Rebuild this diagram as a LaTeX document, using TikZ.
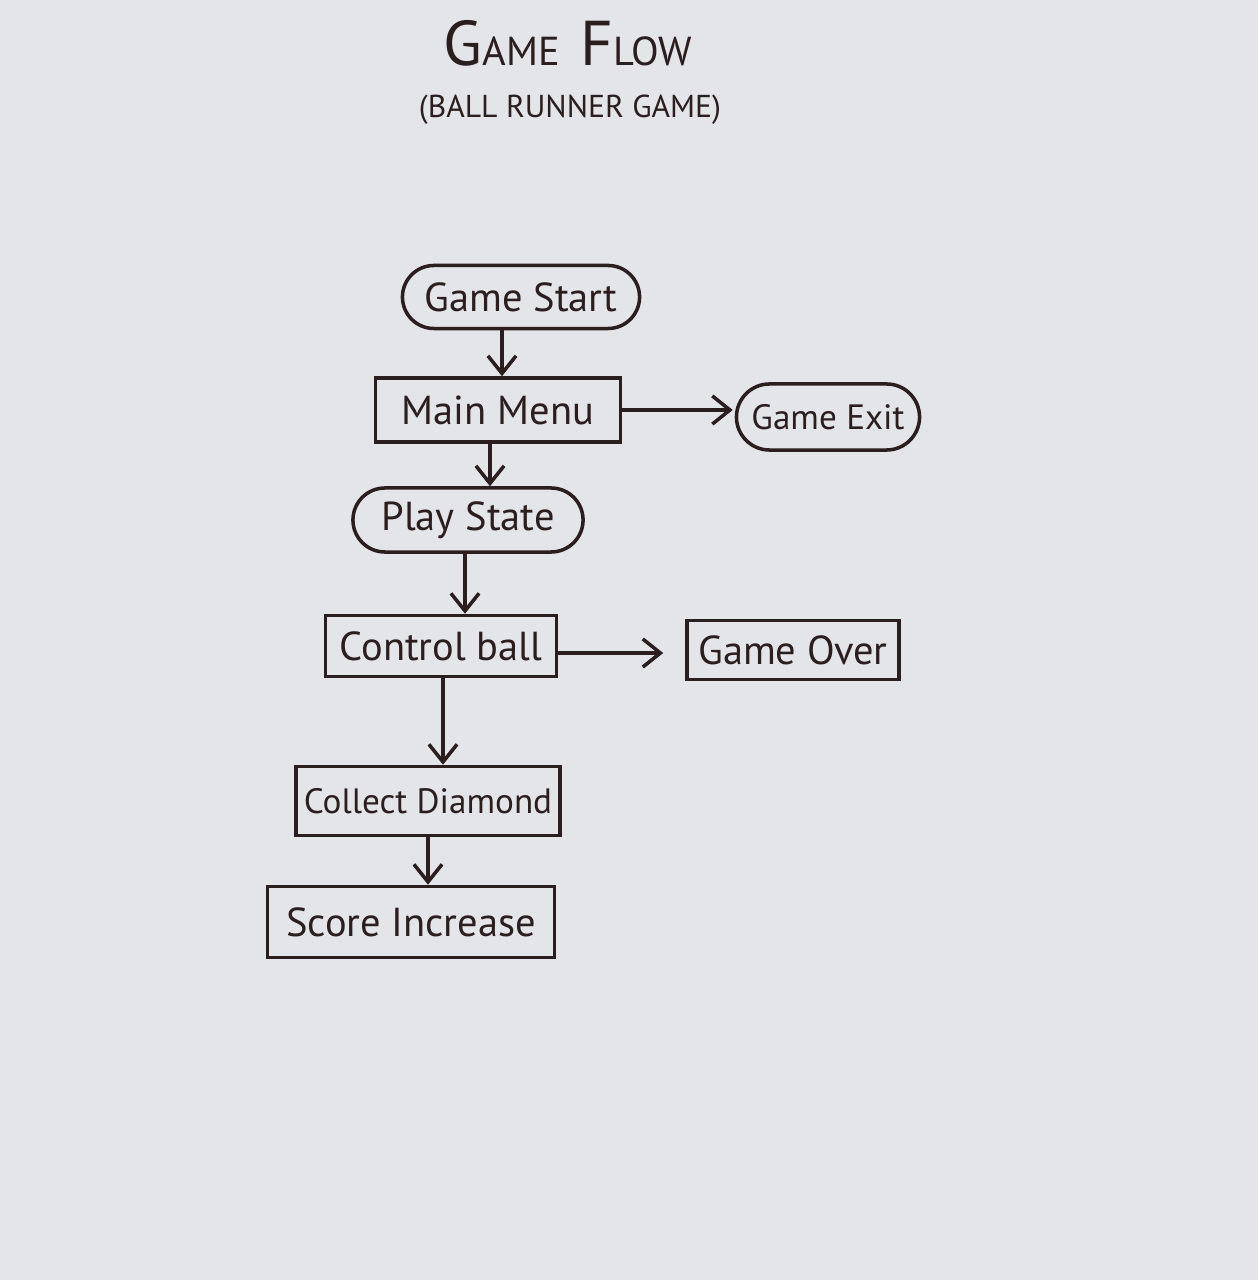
\documentclass[tikz,border=0pt]{standalone}
\usepackage{fontspec}
\setmainfont{PT Sans}
\usetikzlibrary{shapes.misc,arrows.meta}
\definecolor{paper}{HTML}{E4E5E9}
\definecolor{ink}{HTML}{2A1E1E}
\tikzset{
  boxnode/.style={draw=ink, line width=1pt, rectangle, inner sep=0pt, text=ink, font=\fontsize{11.5}{11.5}\selectfont},
  pillnode/.style={draw=ink, line width=1pt, rounded rectangle, inner sep=0pt, text=ink, font=\fontsize{11.5}{11.5}\selectfont},
  arr/.style={draw=ink, line width=1pt, -{Straight Barb[length=5pt,width=8pt]}}
}
\begin{document}
\begin{tikzpicture}[x=0.01cm,y=-0.01cm]
\useasboundingbox[fill=paper] (0,0) rectangle (1258,1280);
% title
\node[text=ink, anchor=base] (t1) at (568,66) {{\fontsize{18}{18}\selectfont G}{\fontsize{11.5}{11.5}\selectfont AME}\hspace{0.6em}{\fontsize{18}{18}\selectfont F}{\fontsize{11.5}{11.5}\selectfont LOW}};
\node[text=ink, anchor=base] (t2) at (570,118) {\fontsize{9}{9}\selectfont (BALL RUNNER GAME)};
% nodes
\node[pillnode, minimum width=2.37cm, minimum height=0.63cm] (gs) at (521,297) {Game Start};
\node[boxnode, minimum width=2.45cm, minimum height=0.64cm] (mm) at (498,410) {Main Menu};
\node[pillnode, minimum width=1.83cm, minimum height=0.66cm, font=\fontsize{10}{10}\selectfont] (ge) at (828,417) {Game Exit};
\node[pillnode, minimum width=2.30cm, minimum height=0.64cm] (ps) at (468,520) {Play State};
\node[boxnode, minimum width=2.31cm, minimum height=0.61cm] (cb) at (441,646) {Control ball};
\node[boxnode, minimum width=2.12cm, minimum height=0.59cm] (go) at (793,650) {Game Over};
\node[boxnode, minimum width=2.64cm, minimum height=0.69cm, font=\fontsize{10}{10}\selectfont] (cd) at (428,801) {Collect Diamond};
\node[boxnode, minimum width=2.87cm, minimum height=0.71cm] (si) at (411,922) {Score Increase};
% connectors
\draw[arr] ([xshift=-0.19cm]gs.south) -- ([xshift=-0.19cm]gs.south |- mm.north);
\draw[arr] ([xshift=-0.08cm]mm.south) -- ([xshift=-0.08cm]mm.south |- ps.north);
\draw[arr] ([xshift=-0.03cm]ps.south) -- ([xshift=-0.03cm]ps.south |- cb.north);
\draw[arr] ([xshift=0.02cm]cb.south) -- ([xshift=0.02cm]cb.south |- cd.north);
\draw[arr] (cd.south) -- (cd.south |- si.north);
\draw[arr] (mm.east) -- ([xshift=-0.02cm]ge.west |- mm.east);
\draw[arr] ([yshift=-0.07cm]cb.east) -- ([xshift=-0.22cm,yshift=-0.07cm]go.west |- cb.east);
\end{tikzpicture}
\end{document}
